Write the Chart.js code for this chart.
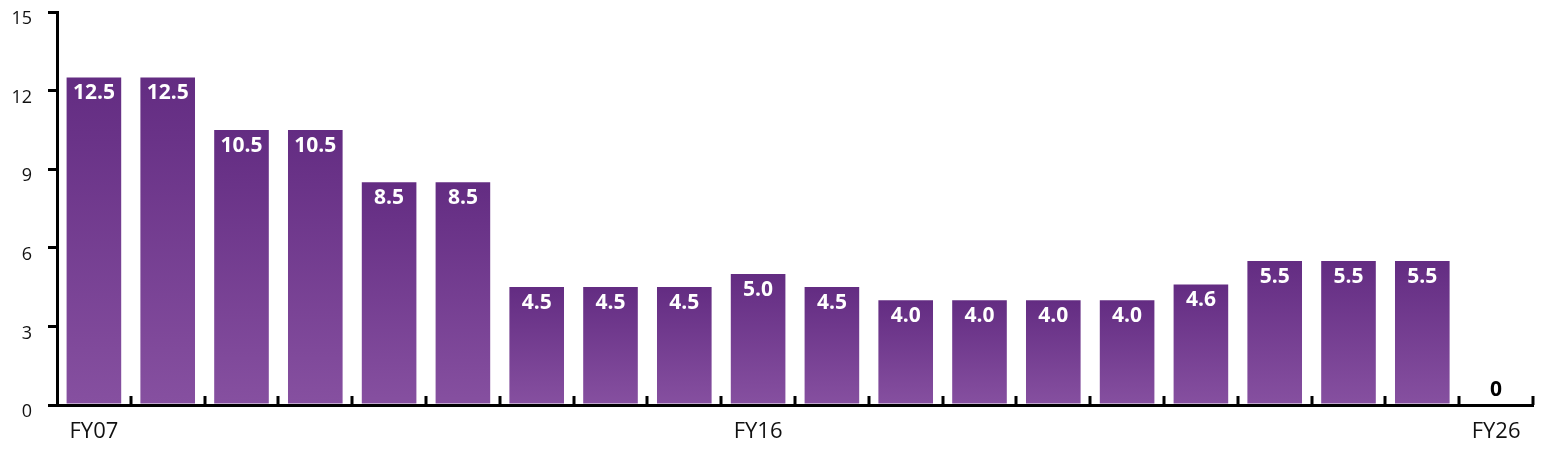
<!DOCTYPE html>
<html>
<head>
<meta charset="utf-8">
<script src="https://cdn.jsdelivr.net/npm/chart.js@4/dist/chart.umd.min.js"></script>
<style>
  html, body { margin: 0; padding: 0; background: #fff; }
  #wrap { width: 1553px; height: 453px; }
</style>
</head>
<body>
<div id="wrap"><canvas id="rateChart"></canvas></div>
<script>
// 데이터
const years = ['FY07','FY08','FY09','FY10','FY11','FY12','FY13','FY14','FY15','FY16',
               'FY17','FY18','FY19','FY20','FY21','FY22','FY23','FY24','FY25','FY26'];
const rates = [12.5, 12.5, 10.5, 10.5, 8.5, 8.5, 4.5, 4.5, 4.5, 5.0,
               4.5, 4.0, 4.0, 4.0, 4.0, 4.6, 5.5, 5.5, 5.5, 0];
const shownLabels = ['FY07', 'FY16', 'FY26'];
const yTicks = [0, 3, 6, 9, 12, 15];

const FONT = "'Open Sans', 'Noto Sans', sans-serif";

// 막대 위 값 표시 + x축 안쪽 눈금
const barLabels = {
    id: 'barLabels',
    afterDatasetsDraw(chart) {
        const ctx = chart.ctx;
        const meta = chart.getDatasetMeta(0);
        ctx.save();
        ctx.font = 'bold 21px ' + FONT;
        ctx.textAlign = 'center';
        ctx.textBaseline = 'middle';
        meta.data.forEach((bar, i) => {
            const v = rates[i];
            const txt = v === 0 ? '0' : v.toFixed(1);
            if (v === 0) {
                ctx.fillStyle = '#000';
                ctx.fillText(txt, bar.x, bar.y - 15);
            } else {
                ctx.fillStyle = '#fff';
                ctx.fillText(txt, bar.x, bar.y + 16);
            }
        });
        ctx.restore();
    },
    afterDraw(chart) {
        const ctx = chart.ctx;
        const x = chart.scales.x;
        const area = chart.chartArea;
        const step = x.getPixelForValue(1) - x.getPixelForValue(0);
        ctx.save();
        ctx.strokeStyle = '#000';
        ctx.lineWidth = 3;
        ctx.beginPath();
        for (let i = 1; i <= years.length; i++) {
            const px = Math.round(x.getPixelForValue(i) - step / 2);
            ctx.moveTo(px, area.bottom);
            ctx.lineTo(px, area.bottom - 9);
        }
        ctx.stroke();
        ctx.restore();
    }
};

const ctx = document.getElementById('rateChart').getContext('2d');

new Chart(ctx, {
    type: 'bar',
    data: {
        labels: years,
        datasets: [{
            data: rates,
            categoryPercentage: 0.74,
            barPercentage: 1.0,
            backgroundColor: function(context) {
                const chart = context.chart;
                const area = chart.chartArea;
                if (!area) return '#74409a';
                const y = chart.scales.y;
                const top = y.getPixelForValue(context.raw || 0);
                const bottom = y.getPixelForValue(0);
                if (bottom - top < 1) return '#74409a';
                const g = chart.ctx.createLinearGradient(0, top, 0, bottom);
                g.addColorStop(0, '#632c82');
                g.addColorStop(1, '#8650a0');
                return g;
            }
        }]
    },
    options: {
        responsive: true,
        maintainAspectRatio: false,
        animation: false,
        layout: { padding: { top: 12, right: 20, bottom: 0, left: 0 } },
        plugins: {
            legend: { display: false },
            tooltip: { enabled: false }
        },
        scales: {
            x: {
                afterFit: function(scale) {
                    scale.height = 48;
                    scale.paddingLeft = 0;
                    scale.paddingRight = 0;
                },
                border: { display: true, color: '#000', width: 3 },
                grid: { display: false },
                ticks: {
                    autoSkip: false,
                    maxRotation: 0,
                    padding: 6,
                    color: '#111',
                    font: { family: FONT, size: 22 },
                    callback: function(value) {
                        const lbl = years[value];
                        return shownLabels.includes(lbl) ? lbl : '';
                    }
                }
            },
            y: {
                min: 0,
                max: 15,
                afterBuildTicks: function(scale) {
                    scale.ticks = yTicks.map(v => ({ value: v }));
                },
                afterFit: function(scale) {
                    scale.width = 57;
                    scale.paddingTop = 0;
                    scale.paddingBottom = 0;
                },
                border: { display: true, color: '#000', width: 3 },
                grid: {
                    drawOnChartArea: false,
                    drawTicks: true,
                    tickLength: 9,
                    color: '#000',
                    lineWidth: 3
                },
                ticks: {
                    padding: 16,
                    labelOffset: 7,
                    color: '#111',
                    font: { family: FONT, size: 18 }
                }
            }
        }
    },
    plugins: [barLabels]
});
</script>
</body>
</html>
